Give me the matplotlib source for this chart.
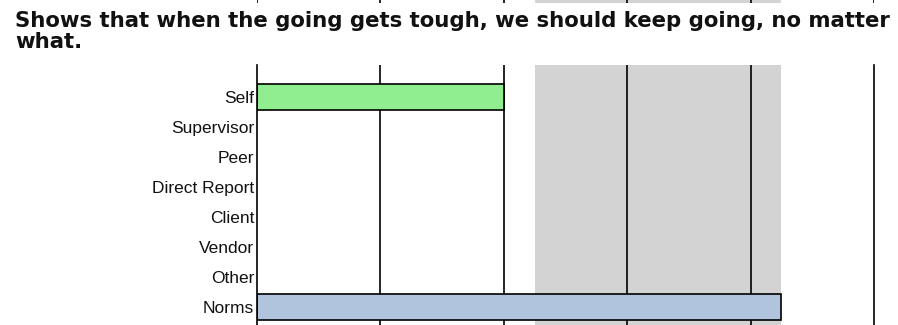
import matplotlib
matplotlib.use("Agg")
import matplotlib.pyplot as plt

categories = ["Self", "Supervisor", "Peer", "Direct Report", "Client", "Vendor", "Other", "Norms"]
values = [2.0, None, None, None, None, None, None, 4.25]
bar_colors = ["#90EE90", None, None, None, None, None, None, "#B0C4DE"]
band_range = [2.25, 4.25]
x_ticks = [0, 1, 2, 3, 4, 5]
title = "Shows that when the going gets tough, we should keep going, no matter\nwhat."

W, H = 898, 325
fig = plt.figure(figsize=(W / 100, H / 100), dpi=100)

left = 257 / W
right = 874 / W
top_px = 65
pad = 17 / 30
n = len(categories)
slot = 30
height_px = (n - 1 + 1 + 2 * pad) * slot
bottom_px = top_px + height_px
ax = fig.add_axes([left, 1 - bottom_px / H, right - left, height_px / H])

ax.axvspan(band_range[0], band_range[1], color="#D3D3D3", zorder=0, lw=0)
for xv in x_ticks[1:-1]:
    ax.axvline(xv, color="black", lw=1.2, zorder=1)

for i, (v, c) in enumerate(zip(values, bar_colors)):
    if v is not None:
        ax.barh(i, v, height=0.87, color=c, edgecolor="black", linewidth=1.2, zorder=2)

ax.set_xlim(x_ticks[0], x_ticks[-1])
ax.set_ylim(n - 1 + 0.5 + pad, -0.5 - pad)
ax.set_yticks(range(n))
ax.set_yticklabels(categories, fontsize=12.5, family="Liberation Sans", color="#111111")
ax.tick_params(axis="y", length=0, pad=2)
ax.set_xticks([])
for s in ["top", "bottom"]:
    ax.spines[s].set_visible(False)
ax.spines["left"].set_linewidth(1.2)
ax.spines["right"].set_linewidth(1.2)

# sliver of the previous chart at the very top
ax2 = fig.add_axes([left, 1 - 3 / H, right - left, 10 / H])
ax2.axvspan(band_range[0], band_range[1], color="#D3D3D3", lw=0)
for xv in x_ticks:
    ax2.axvline(xv, color="black", lw=1.2)
ax2.set_xlim(x_ticks[0], x_ticks[-1])
ax2.axis("off")

fig.text(15 / W, 1 - 11 / H, title, fontsize=15.3, fontweight="bold",
         ha="left", va="top", linespacing=1.09, color="#111111")

fig.savefig("out.png", dpi=100)
